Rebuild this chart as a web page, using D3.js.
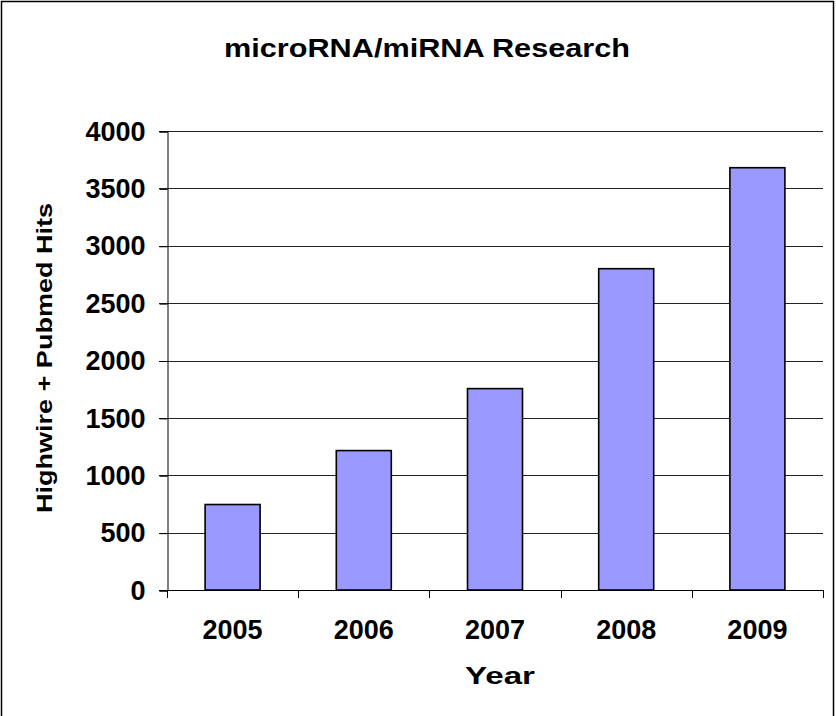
<!DOCTYPE html>
<html>
<head>
<meta charset="utf-8">
<script src="https://cdn.jsdelivr.net/npm/d3@7"></script>
<style>
  body { margin: 0; background: #fff; }
  text { font-family: Arial, "Liberation Sans", sans-serif; font-weight: bold; fill: #000; }
</style>
</head>
<body>
<svg id="chart" width="836" height="716"></svg>
<script>
// data
var years = ["2005", "2006", "2007", "2008", "2009"];
var hits = [745, 1215, 1755, 2800, 3680];
var yTicks = [0, 500, 1000, 1500, 2000, 2500, 3000, 3500, 4000];

var svg = d3.select("#chart");

// outer frame
svg.append("rect")
    .attr("x", 1.5).attr("y", 1.5)
    .attr("width", 832).attr("height", 730)
    .attr("fill", "#fff")
    .attr("stroke", "#000").attr("stroke-width", 1.5);

var plotL = 167, plotR = 823, plotT = 131, plotB = 590;

var x = d3.scaleBand().domain(years).range([plotL, plotR]);
var y = d3.scaleLinear().domain([0, 4000]).range([plotB, plotT]);

// gridlines
svg.append("g")
    .selectAll("line")
    .data(yTicks.filter(d => d > 0))
    .enter()
    .append("line")
    .attr("x1", plotL - 8).attr("x2", plotR)
    .attr("y1", d => Math.round(y(d)) + 0.5)
    .attr("y2", d => Math.round(y(d)) + 0.5)
    .attr("stroke", "#222").attr("stroke-width", 1);

// y axis
var yAxis = svg.append("g")
    .attr("transform", "translate(" + (plotL + 0.5) + ",0.5)")
    .call(d3.axisLeft(y).tickValues(yTicks).tickSize(8).tickPadding(14).tickFormat(d3.format("d")));
yAxis.select(".domain").attr("stroke", "#000");
yAxis.selectAll("line").attr("stroke", "#000");
yAxis.selectAll("text")
    .style("font-size", "27px")
    .style("font-family", "Arial, 'Liberation Sans', sans-serif")
    .style("font-weight", "bold")
    .attr("fill", "#000");

// bars
var barW = 55;
svg.append("g")
    .selectAll("rect")
    .data(years)
    .enter()
    .append("rect")
    .attr("x", (d) => x(d) + x.bandwidth() / 2 - barW / 2)
    .attr("y", (d, i) => y(hits[i]))
    .attr("width", barW)
    .attr("height", (d, i) => plotB - y(hits[i]))
    .attr("fill", "#9999ff")
    .attr("stroke", "#000").attr("stroke-width", 1.6);

// x axis line and ticks
svg.append("line")
    .attr("x1", plotL - 8).attr("x2", plotR)
    .attr("y1", plotB + 0.5).attr("y2", plotB + 0.5)
    .attr("stroke", "#000").attr("stroke-width", 1.2);

var edges = years.map(d => x(d)).concat([plotR]);
svg.append("g")
    .selectAll("line")
    .data(edges)
    .enter()
    .append("line")
    .attr("x1", d => Math.round(d) + 0.5).attr("x2", d => Math.round(d) + 0.5)
    .attr("y1", plotB).attr("y2", plotB + 8)
    .attr("stroke", "#000");

svg.append("g")
    .selectAll("text")
    .data(years)
    .enter()
    .append("text")
    .attr("x", d => x(d) + x.bandwidth() / 2)
    .attr("y", 639)
    .attr("text-anchor", "middle")
    .style("font-size", "27px")
    .text(d => d);

// titles
svg.append("text")
    .attr("x", 427).attr("y", 57)
    .attr("text-anchor", "middle")
    .attr("textLength", 406).attr("lengthAdjust", "spacingAndGlyphs")
    .style("font-size", "26px")
    .text("microRNA/miRNA Research");

svg.append("text")
    .attr("x", 500).attr("y", 684)
    .attr("text-anchor", "middle")
    .attr("textLength", 70).attr("lengthAdjust", "spacingAndGlyphs")
    .style("font-size", "24px")
    .text("Year");

svg.append("text")
    .attr("transform", "translate(52,358) rotate(-90)")
    .attr("text-anchor", "middle")
    .attr("textLength", 310).attr("lengthAdjust", "spacingAndGlyphs")
    .style("font-size", "22px")
    .text("Highwire + Pubmed Hits");
</script>
</body>
</html>
